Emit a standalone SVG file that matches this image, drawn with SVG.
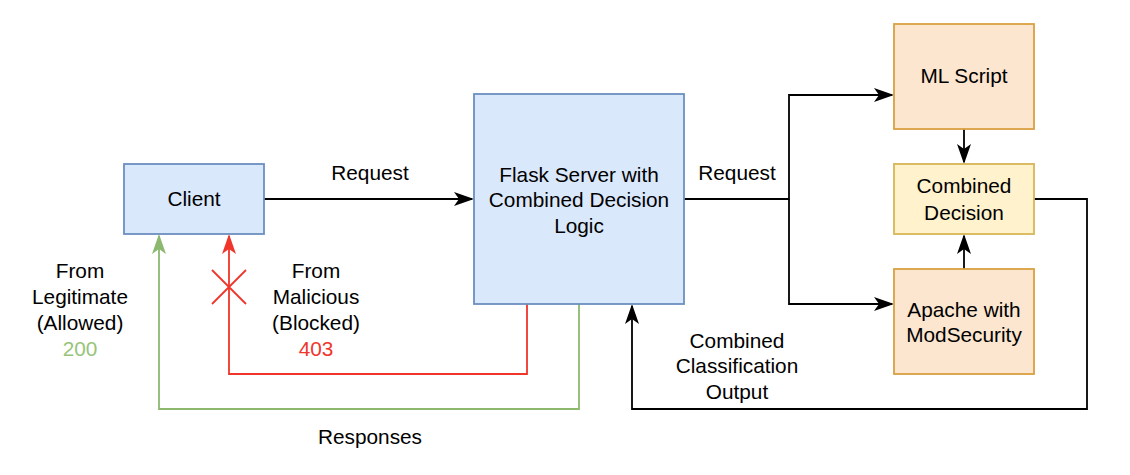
<svg xmlns="http://www.w3.org/2000/svg" width="1130" height="475" viewBox="0 0 1130 475">
<style>
text{font-family:"Liberation Sans",Arial,sans-serif;font-size:20.8px;fill:#000;text-anchor:middle}
.blue{fill:#dae8fc;stroke:#6c8ebf;stroke-width:1.8}
.orange{fill:#fce6cf;stroke:#d9a040;stroke-width:1.8}
.yellow{fill:#fff2cc;stroke:#d6b656;stroke-width:1.8}
.c{fill:none;stroke-width:1.8}
.k{stroke:#000}
.r{stroke:#f0362b}
.g{stroke:#8cb870}
</style>
<defs>
<marker id="ak" viewBox="0 0 20 14" refX="18" refY="7" markerWidth="20" markerHeight="14" markerUnits="userSpaceOnUse" orient="auto"><path d="M0,0 L20,7 L0,14 L5,7 Z" fill="#000"/></marker>
<marker id="ar" viewBox="0 0 20 14" refX="18" refY="7" markerWidth="20" markerHeight="14" markerUnits="userSpaceOnUse" orient="auto"><path d="M0,0 L20,7 L0,14 L5,7 Z" fill="#f0362b"/></marker>
<marker id="ag" viewBox="0 0 20 14" refX="18" refY="7" markerWidth="20" markerHeight="14" markerUnits="userSpaceOnUse" orient="auto"><path d="M0,0 L20,7 L0,14 L5,7 Z" fill="#8cb870"/></marker>
</defs>
<g id="connectors">
<path class="c k" d="M264,199 H472" marker-end="url(#ak)"/>
<path class="c k" d="M684,199 H789 V95 H892" marker-end="url(#ak)"/>
<path class="c k" d="M789,199 V304 H892" marker-end="url(#ak)"/>
<path class="c k" d="M964,129 V162" marker-end="url(#ak)"/>
<path class="c k" d="M964,269 V236" marker-end="url(#ak)"/>
<path class="c k" d="M1034,199 H1087 V409 H632 V306" marker-end="url(#ak)"/>
<path class="c r" d="M527,304 V374 H229 V236" marker-end="url(#ar)"/>
<path class="c g" d="M579,304 V409 H159 V236" marker-end="url(#ag)"/>
<path class="c r" d="M212,270 L246,304 M246,270 L212,304"/>
</g>
<g id="client"><rect class="blue" x="124" y="164" width="140" height="70"/><text x="194" y="206">Client</text></g>
<g id="flask"><rect class="blue" x="474" y="94" width="210" height="210"/>
<text x="579" y="182">Flask Server with</text><text x="579" y="207">Combined Decision</text><text x="579" y="233">Logic</text></g>
<g id="ml"><rect class="orange" x="894" y="24" width="140" height="105"/><text x="964" y="83">ML Script</text></g>
<g id="combined"><rect class="yellow" x="894" y="164" width="140" height="70"/><text x="964" y="193">Combined</text><text x="964" y="220">Decision</text></g>
<g id="apache"><rect class="orange" x="894" y="269" width="140" height="105"/><text x="964" y="317">Apache with</text><text x="964" y="342">ModSecurity</text></g>
<g id="labels">
<text x="370" y="180">Request</text>
<text x="737" y="180">Request</text>
<text x="80" y="278">From</text><text x="80" y="304">Legitimate</text><text x="80" y="330">(Allowed)</text><text x="80" y="356" style="fill:#97c47a">200</text>
<text x="316" y="278">From</text><text x="316" y="304">Malicious</text><text x="316" y="330">(Blocked)</text><text x="316" y="356" style="fill:#f0362b">403</text>
<text x="737" y="348">Combined</text><text x="737" y="373">Classification</text><text x="737" y="399">Output</text>
<text x="370" y="444">Responses</text>
</g>
</svg>
